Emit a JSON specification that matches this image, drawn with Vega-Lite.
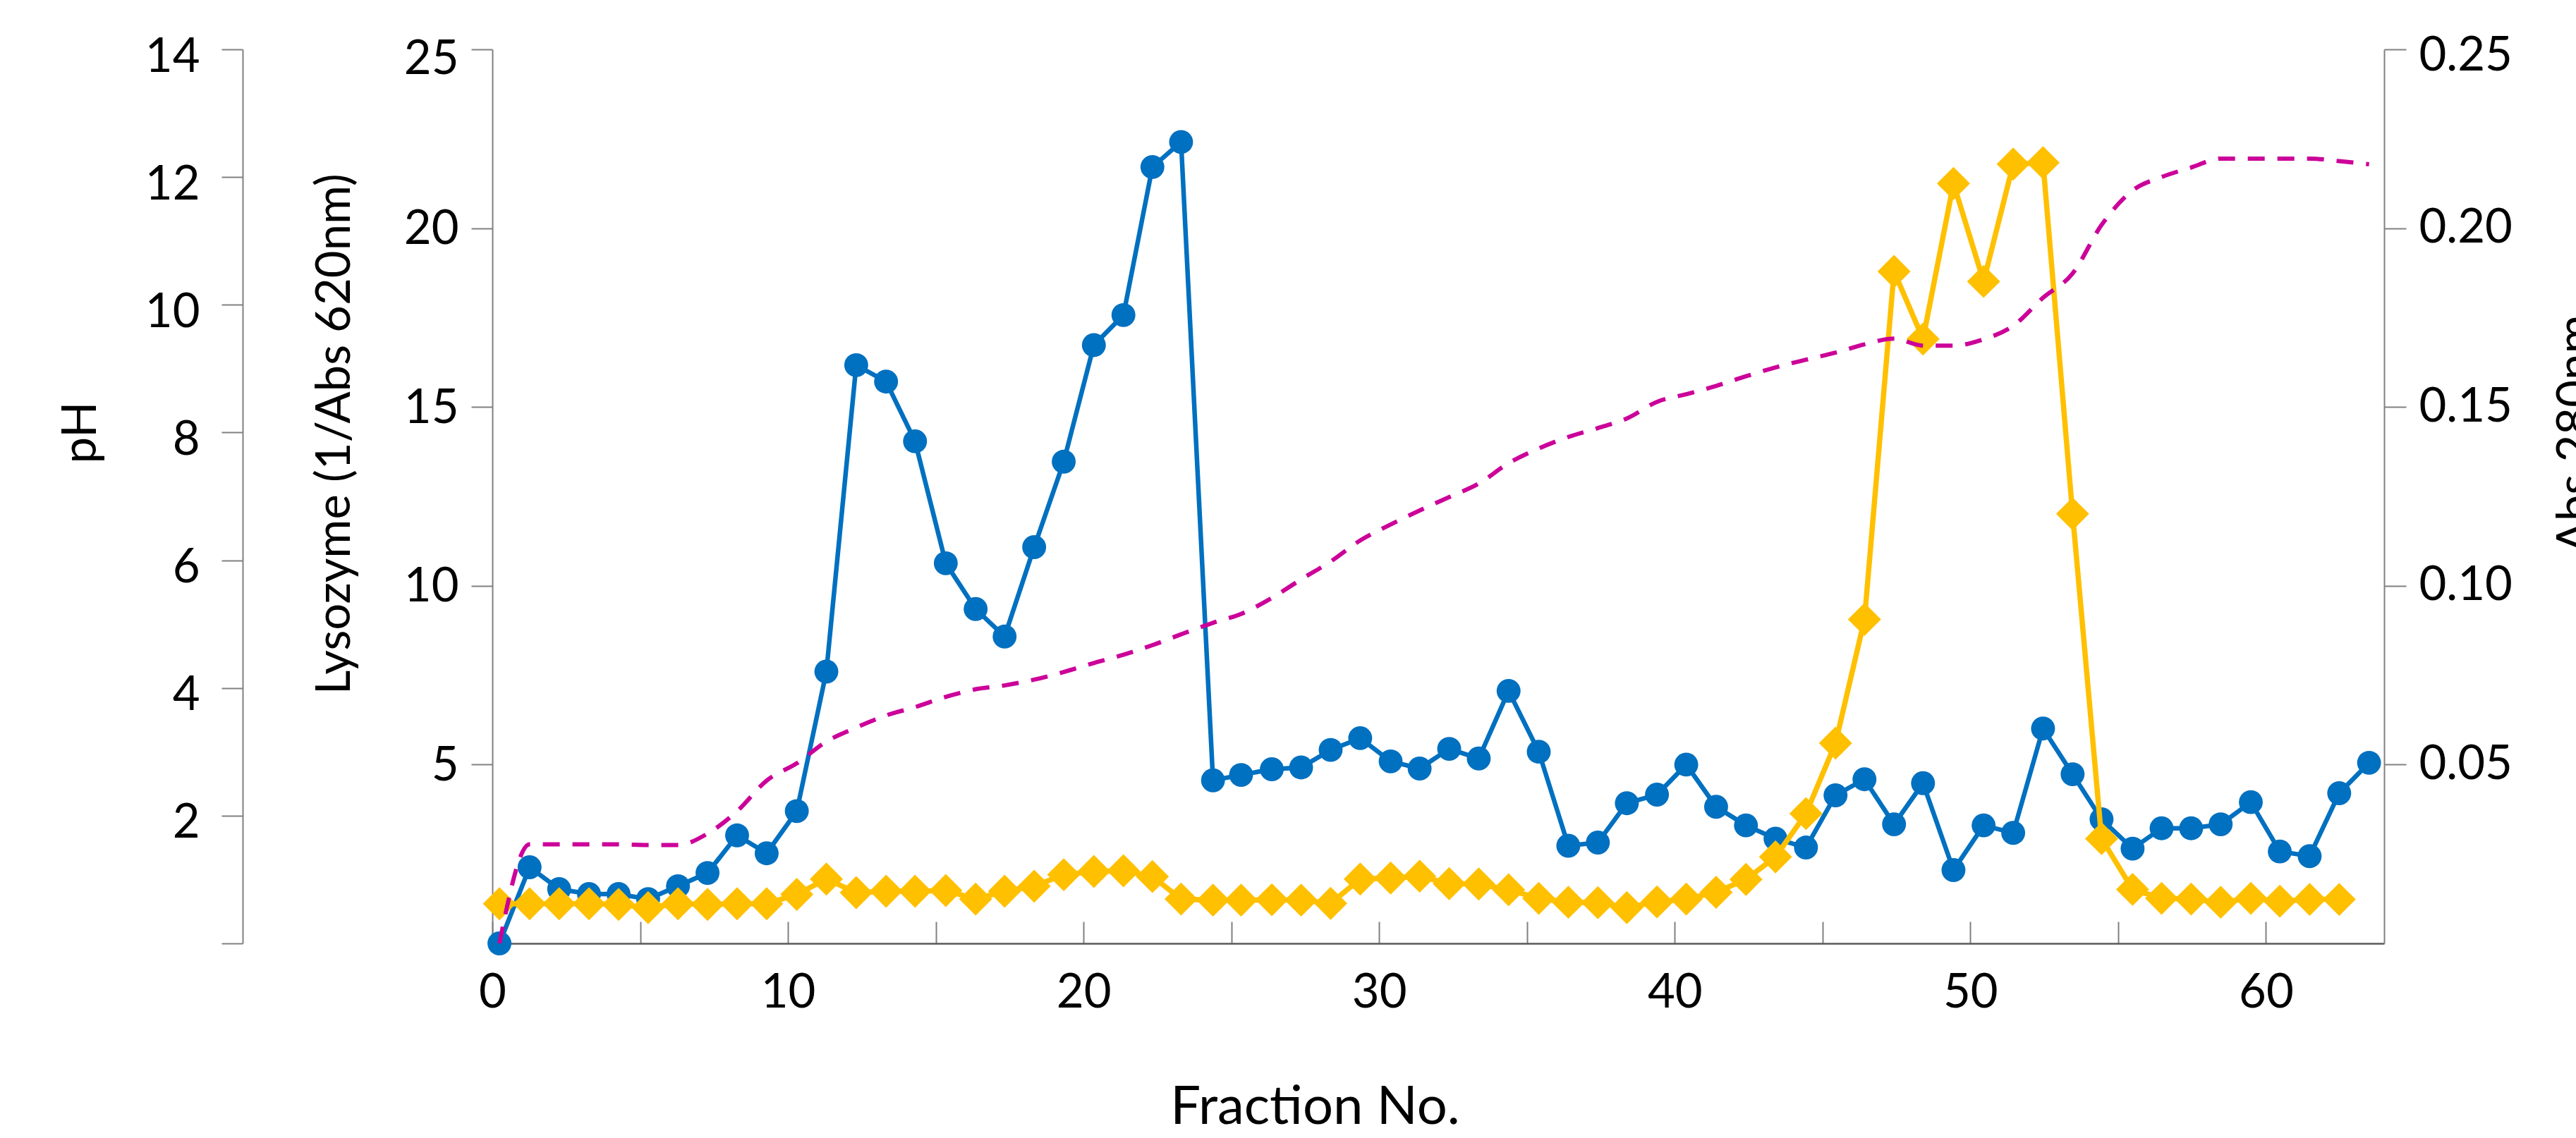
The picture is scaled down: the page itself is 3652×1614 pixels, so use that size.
{
  "$schema": "https://vega.github.io/schema/vega-lite/v6.json",
  "width": 2682,
  "height": 1268,
  "autosize": {"type": "none"},
  "padding": {"left": 698, "top": 70, "right": 272, "bottom": 276},
  "background": "white",
  "config": {
    "view": {"stroke": null},
    "font": "Lato",
    "axis": {
      "grid": false,
      "labelFont": "Lato",
      "titleFont": "Lato",
      "labelColor": "black",
      "titleColor": "black",
      "titleFontWeight": "normal",
      "labelFontSize": 67,
      "titleFontSize": 67,
      "domainColor": "#808080",
      "domainWidth": 2,
      "tickColor": "#808080",
      "tickWidth": 2,
      "labelFlush": false,
      "labelOverlap": false
    }
  },
  "data": {
    "values": [
      {"x": 0.24, "lys": 0.0, "abs": 0.0111, "ph": 0.0},
      {"x": 1.26, "lys": 2.13, "abs": 0.0111, "ph": 1.55},
      {"x": 2.26, "lys": 1.52, "abs": 0.0111, "ph": 1.55},
      {"x": 3.27, "lys": 1.38, "abs": 0.0111, "ph": 1.55},
      {"x": 4.27, "lys": 1.38, "abs": 0.0109, "ph": 1.55},
      {"x": 5.27, "lys": 1.24, "abs": 0.0100, "ph": 1.54},
      {"x": 6.28, "lys": 1.60, "abs": 0.0111, "ph": 1.54},
      {"x": 7.28, "lys": 1.97, "abs": 0.0109, "ph": 1.72},
      {"x": 8.28, "lys": 3.02, "abs": 0.0111, "ph": 2.07},
      {"x": 9.28, "lys": 2.52, "abs": 0.0111, "ph": 2.55},
      {"x": 10.3, "lys": 3.70, "abs": 0.0137, "ph": 2.82},
      {"x": 11.3, "lys": 7.60, "abs": 0.0180, "ph": 3.16},
      {"x": 12.31, "lys": 16.17, "abs": 0.0142, "ph": 3.38},
      {"x": 13.32, "lys": 15.71, "abs": 0.0146, "ph": 3.57},
      {"x": 14.3, "lys": 14.04, "abs": 0.0146, "ph": 3.70},
      {"x": 15.34, "lys": 10.63, "abs": 0.0148, "ph": 3.86},
      {"x": 16.35, "lys": 9.35, "abs": 0.0124, "ph": 3.98},
      {"x": 17.33, "lys": 8.58, "abs": 0.0146, "ph": 4.04},
      {"x": 18.33, "lys": 11.08, "abs": 0.0160, "ph": 4.13},
      {"x": 19.33, "lys": 13.47, "abs": 0.0192, "ph": 4.25},
      {"x": 20.35, "lys": 16.73, "abs": 0.0201, "ph": 4.39},
      {"x": 21.35, "lys": 17.57, "abs": 0.0203, "ph": 4.52},
      {"x": 22.33, "lys": 21.71, "abs": 0.0187, "ph": 4.67},
      {"x": 23.3, "lys": 22.41, "abs": 0.0124, "ph": 4.84},
      {"x": 24.38, "lys": 4.56, "abs": 0.0121, "ph": 5.02},
      {"x": 25.33, "lys": 4.71, "abs": 0.0121, "ph": 5.16},
      {"x": 26.37, "lys": 4.87, "abs": 0.0122, "ph": 5.41},
      {"x": 27.36, "lys": 4.92, "abs": 0.0121, "ph": 5.70},
      {"x": 28.36, "lys": 5.41, "abs": 0.0112, "ph": 5.98},
      {"x": 29.36, "lys": 5.74, "abs": 0.0180, "ph": 6.31},
      {"x": 30.39, "lys": 5.09, "abs": 0.0183, "ph": 6.56},
      {"x": 31.37, "lys": 4.89, "abs": 0.0188, "ph": 6.78},
      {"x": 32.37, "lys": 5.44, "abs": 0.0167, "ph": 6.99},
      {"x": 33.37, "lys": 5.17, "abs": 0.0166, "ph": 7.20},
      {"x": 34.38, "lys": 7.06, "abs": 0.0150, "ph": 7.52},
      {"x": 35.4, "lys": 5.36, "abs": 0.0126, "ph": 7.75},
      {"x": 36.4, "lys": 2.73, "abs": 0.0115, "ph": 7.93},
      {"x": 37.4, "lys": 2.82, "abs": 0.0114, "ph": 8.07},
      {"x": 38.38, "lys": 3.92, "abs": 0.0100, "ph": 8.22},
      {"x": 39.4, "lys": 4.16, "abs": 0.0116, "ph": 8.48},
      {"x": 40.39, "lys": 5.00, "abs": 0.0124, "ph": 8.60},
      {"x": 41.4, "lys": 3.82, "abs": 0.0143, "ph": 8.73},
      {"x": 42.41, "lys": 3.30, "abs": 0.0179, "ph": 8.88},
      {"x": 43.41, "lys": 2.93, "abs": 0.0242, "ph": 9.02},
      {"x": 44.44, "lys": 2.68, "abs": 0.0363, "ph": 9.14},
      {"x": 45.44, "lys": 4.14, "abs": 0.0560, "ph": 9.25},
      {"x": 46.42, "lys": 4.59, "abs": 0.0906, "ph": 9.38},
      {"x": 47.42, "lys": 3.33, "abs": 0.1879, "ph": 9.47},
      {"x": 48.4, "lys": 4.48, "abs": 0.1690, "ph": 9.36},
      {"x": 49.43, "lys": 2.05, "abs": 0.2125, "ph": 9.36},
      {"x": 50.45, "lys": 3.30, "abs": 0.1851, "ph": 9.46},
      {"x": 51.45, "lys": 3.09, "abs": 0.2179, "ph": 9.67},
      {"x": 52.46, "lys": 6.01, "abs": 0.2183, "ph": 10.11},
      {"x": 53.46, "lys": 4.73, "abs": 0.1201, "ph": 10.49},
      {"x": 54.44, "lys": 3.47, "abs": 0.0293, "ph": 11.25},
      {"x": 55.49, "lys": 2.65, "abs": 0.0151, "ph": 11.79},
      {"x": 56.47, "lys": 3.22, "abs": 0.0126, "ph": 12.0},
      {"x": 57.47, "lys": 3.22, "abs": 0.0124, "ph": 12.15},
      {"x": 58.47, "lys": 3.33, "abs": 0.0115, "ph": 12.29},
      {"x": 59.49, "lys": 3.95, "abs": 0.0126, "ph": 12.29},
      {"x": 60.47, "lys": 2.57, "abs": 0.0118, "ph": 12.29},
      {"x": 61.48, "lys": 2.44, "abs": 0.0123, "ph": 12.29},
      {"x": 62.48, "lys": 4.20, "abs": 0.0123, "ph": 12.25},
      {"x": 63.49, "lys": 5.05, "abs": null, "ph": 12.2}
    ]
  },
  "encoding": {
    "x": {
      "field": "x",
      "type": "quantitative",
      "scale": {"domain": [0, 64], "nice": false},
      "axis": {
        "title": "Fraction No.",
        "values": [0, 5, 10, 15, 20, 25, 30, 35, 40, 45, 50, 55, 60],
        "labelExpr": "datum.value % 10 === 0 ? datum.label : ''",
        "tickSize": -31,
        "labelPadding": 68,
        "domainColor": "#595959",
        "domainWidth": 2.5,
        "titleFontSize": 76,
        "titleX": 1166,
        "titleY": 255,
        "titleAlign": "center",
        "titleBaseline": "alphabetic"
      }
    }
  },
  "layer": [
    {
      "mark": {
        "type": "line",
        "color": "#0070C0",
        "strokeWidth": 6.5,
        "point": {"filled": true, "size": 1150, "color": "#0070C0", "opacity": 1}
      },
      "encoding": {
        "y": {
          "field": "lys",
          "type": "quantitative",
          "scale": {"domain": [0, 25], "nice": false},
          "axis": {
            "orient": "left",
            "title": "Lysozyme (1/Abs 620nm)",
            "values": [5, 10, 15, 20, 25],
            "tickSize": 30,
            "labelPadding": 18,
            "labelOffset": {"condition": {"test": "datum.value === 25", "value": 14}, "value": 2},
            "titleX": -203,
            "titleY": 545,
            "titleAngle": 270,
            "titleAlign": "center",
            "titleBaseline": "alphabetic"
          }
        }
      }
    },
    {
      "mark": {
        "type": "line",
        "color": "#FFC000",
        "strokeWidth": 7.5,
        "point": {"filled": true, "shape": "diamond", "size": 2200, "color": "#FFC000", "opacity": 1}
      },
      "encoding": {
        "y": {
          "field": "abs",
          "type": "quantitative",
          "scale": {"domain": [0, 0.25], "nice": false},
          "axis": {
            "orient": "right",
            "title": "Abs 280nm",
            "values": [0.05, 0.1, 0.15, 0.2, 0.25],
            "format": ".2f",
            "tickSize": 31,
            "labelPadding": 18,
            "labelOffset": {"condition": {"test": "datum.value > 0.24", "value": 9}, "value": 0},
            "titleX": 292,
            "titleY": 545,
            "titleAngle": 270,
            "titleAlign": "center",
            "titleBaseline": "alphabetic"
          }
        }
      }
    },
    {
      "mark": {
        "type": "line",
        "color": "#CC0099",
        "strokeWidth": 6,
        "strokeDash": [24, 18],
        "interpolate": "monotone"
      },
      "encoding": {
        "y": {
          "field": "ph",
          "type": "quantitative",
          "scale": {"domain": [0, 14], "nice": false},
          "axis": {
            "orient": "left",
            "offset": 354,
            "title": "pH",
            "values": [0, 2, 4, 6, 8, 10, 12, 14],
            "labelExpr": "datum.value === 0 ? '' : datum.label",
            "tickSize": 30,
            "labelPadding": 31,
            "labelOffset": 11,
            "titleX": -209,
            "titleY": 543,
            "titleAngle": 270,
            "titleAlign": "center",
            "titleBaseline": "alphabetic"
          }
        }
      }
    }
  ],
  "resolve": {"scale": {"y": "independent"}, "axis": {"y": "independent"}}
}
